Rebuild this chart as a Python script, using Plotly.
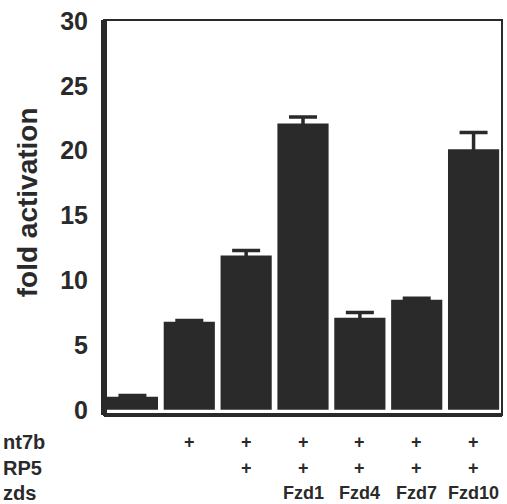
import plotly.graph_objects as go

conditions = ["ctrl", "Wnt7b", "Wnt7b+LRP5", "Fzd1", "Fzd4", "Fzd7", "Fzd10"]
fold_activation = [1.0, 6.8, 11.9, 22.1, 7.1, 8.5, 20.1]
errors = [0.1, 0.1, 0.4, 0.5, 0.4, 0.1, 1.3]
wnt7b_row = ["", "+", "+", "+", "+", "+", "+"]
lrp5_row = ["", "", "+", "+", "+", "+", "+"]
fzds_row = ["", "", "", "Fzd1", "Fzd4", "Fzd7", "Fzd10"]
# row labels as visible in the (cropped) reference
row_labels = ["nt7b", "RP5", "zds"]
y_ticks = [0, 5, 10, 15, 20, 25, 30]

BAR = "#2a2a2a"
FONT = "Liberation Sans, Arial, sans-serif"
xs = list(range(len(conditions)))

fig = go.Figure()
fig.add_trace(go.Bar(
    x=xs, y=fold_activation,
    marker=dict(color=BAR, line=dict(width=0)),
    error_y=dict(type="data", array=errors, color=BAR, thickness=3.5, width=14),
    width=0.9,
))

fig.update_layout(
    width=507, height=504,
    margin=dict(l=104, r=5, t=20, b=89),
    paper_bgcolor="white", plot_bgcolor="white",
    showlegend=False,
    xaxis=dict(range=[-0.5, 6.5], showticklabels=False, showgrid=False,
               zeroline=False, showline=False, ticks=""),
    yaxis=dict(range=[-0.4, 30.08], tickvals=y_ticks, showgrid=False,
               zeroline=False, showline=False, ticks="",
               ticklabelstandoff=15,
               tickfont=dict(family=FONT, size=25, color="#2a2a2a", weight="bold")),
)

fig.add_annotation(x=-0.193, y=0.539, xref="paper", yref="paper", text="fold activation",
                   textangle=-90, xanchor="center", yanchor="middle", showarrow=False,
                   font=dict(family=FONT, size=28, color="#2a2a2a", weight="bold"))

# frame
fig.add_shape(type="rect", xref="paper", yref="paper", x0=0, x1=1, y0=0, y1=1,
              line=dict(color=BAR, width=2))
fig.add_shape(type="line", xref="paper", yref="paper", x0=0, x1=0, y0=0, y1=1,
              line=dict(color=BAR, width=6))
fig.add_shape(type="line", xref="paper", yref="paper", x0=0, x1=1, y0=0, y1=0,
              line=dict(color=BAR, width=4))

# rows below
row_y = [-0.069, -0.135, -0.197]
rows = [wnt7b_row, lrp5_row, fzds_row]
for ry, row, lab in zip(row_y, rows, row_labels):
    fig.add_annotation(x=-0.259, y=ry, xref="paper", yref="paper", text=lab,
                       xanchor="left", yanchor="middle", showarrow=False,
                       font=dict(family=FONT, size=20, color="#2a2a2a", weight="bold"))
    for xi, t in zip(xs, row):
        if t:
            fig.add_annotation(x=xi, y=ry, xref="x", yref="paper", text=t,
                               xanchor="center", yanchor="middle", showarrow=False,
                               font=dict(family=FONT, size=18,
                                         color="#2a2a2a", weight="bold"))

fig.write_html("out.html", config={"displayModeBar": False},
               post_script="document.body.style.margin='0';document.body.style.overflow='hidden';")
